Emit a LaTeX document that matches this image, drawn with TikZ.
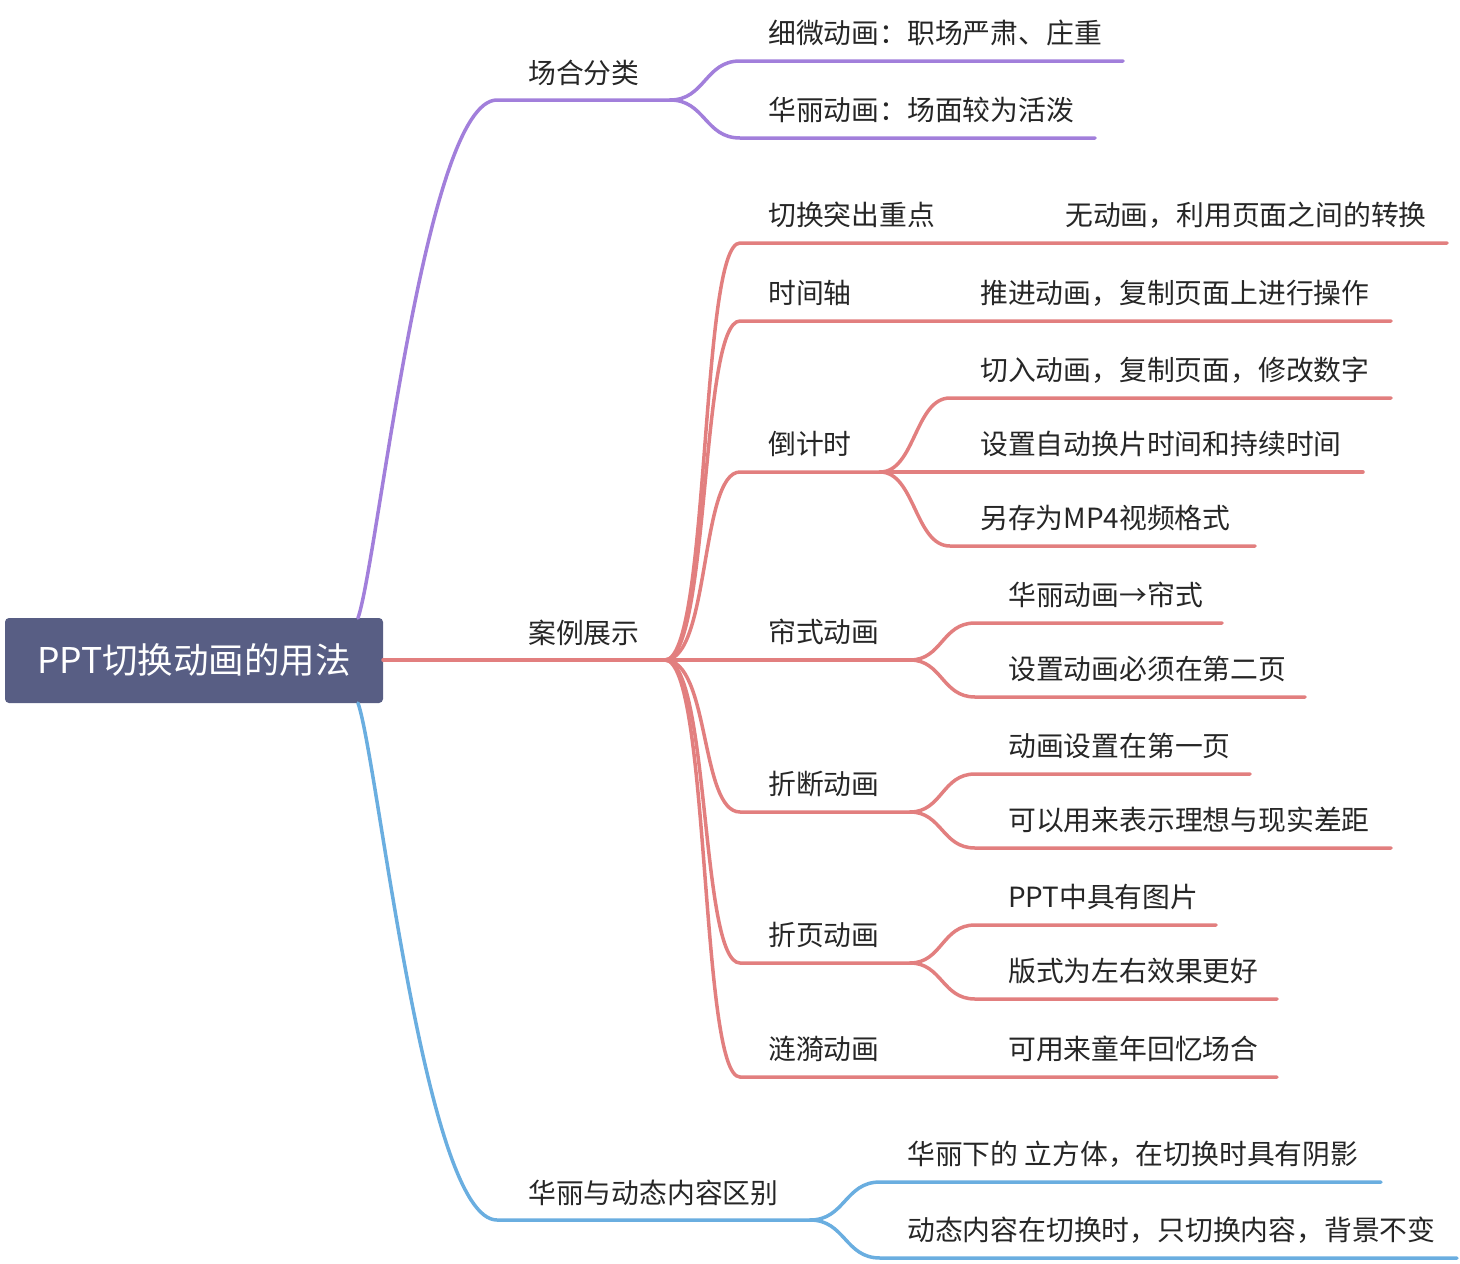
\documentclass[tikz,border=0pt]{standalone}
\usepackage{fontspec}
\setmainfont{Noto Sans CJK SC}
\begin{document}
\begin{tikzpicture}[x=1pt,y=-1pt,
 br/.style={line width=3.5pt,line cap=round},
 t/.style={anchor=base west,inner sep=0pt,font=\fontsize{27.8}{32}\selectfont,text=black!85}]
\definecolor{pu}{HTML}{A27FDB}
\definecolor{rd}{HTML}{E27F7F}
\definecolor{bl}{HTML}{6AAEE0}
\definecolor{rt}{HTML}{585E84}
\useasboundingbox (0,0) rectangle (1460,1264);
\node[fill=rt,rounded corners=4pt,minimum width=378pt,minimum height=85pt,text=white,font=\fontsize{35.5}{40}\selectfont,inner sep=0pt] (root) at (194,660.5) {PPT切换动画的用法};
% coordinates
\coordinate (pa) at (358,618);\coordinate (ba) at (358,703);
\coordinate (p1) at (497,100);\coordinate (p2) at (670,100);
\coordinate (r1) at (383,660);\coordinate (r2) at (665,660);
\coordinate (b1) at (497,1220);\coordinate (b2) at (810,1220);
% purple
\draw[pu,br] (pa) .. controls (378,560) and (425,100) .. (p1) -- (p2);
\node[t] (n1) at (528,83) {场合分类};
\foreach \y/\e/\s in {61/1123/细微动画：职场严肃、庄重,138/1095/华丽动画：场面较为活泼}{
 \draw[pu,br] (p2) .. controls (705,100) and (705,\y) .. (740,\y) -- (\e,\y);
 \node[t] at (768,\y-18) {\s};}
% red
\draw[rd,br] (r1) -- (r2);
\node[t] (n2) at (528,643) {案例展示};
\foreach \y/\e/\s in {243/1447/切换突出重点,321/1391/时间轴,472/880/倒计时,660/910/帘式动画,812/910/折断动画,963/910/折页动画,1077/1277/涟漪动画}{
 \draw[rd,br] (r2) .. controls (710,660) and (700,\y) .. (740,\y) -- (\e,\y);
 \node[t] at (768,\y-18) {\s};}
\node[t] at (1065,225) {无动画，利用页面之间的转换};
\node[t] at (980,303) {推进动画，复制页面上进行操作};
\node[t] at (1008,1059) {可用来童年回忆场合};
\foreach \y/\e/\s in {398/1391/切入动画，复制页面，修改数字,472/1363/设置自动换片时间和持续时间,546/1255/另存为MP4视频格式}{
 \draw[rd,br] (880,472) .. controls (915,472) and (915,\y) .. (950,\y) -- (\e,\y);
 \node[t] at (980,\y-18) {\s};}
\foreach \c/\y/\e/\s in {660/623/1222/华丽动画→帘式,660/697/1305/设置动画必须在第二页,812/774/1250/动画设置在第一页,812/848/1391/可以用来表示理想与现实差距,963/925/1216/PPT中具有图片,963/999/1277/版式为左右效果更好}{
 \draw[rd,br] (910,\c) .. controls (942,\c) and (942,\y) .. (975,\y) -- (\e,\y);
 \node[t] at (1008,\y-18) {\s};}
% blue
\draw[bl,br] (ba) .. controls (378,760) and (425,1220) .. (b1) -- (b2);
\node[t] (n3) at (528,1203) {华丽与动态内容区别};
\foreach \y/\e/\s in {1182/1381/华丽下的 立方体，在切换时具有阴影,1258/1457/动态内容在切换时，只切换内容，背景不变}{
 \draw[bl,br] (b2) .. controls (845,1220) and (845,\y) .. (880,\y) -- (\e,\y);
 \node[t] at (907,\y-18) {\s};}
\end{tikzpicture}
\end{document}
